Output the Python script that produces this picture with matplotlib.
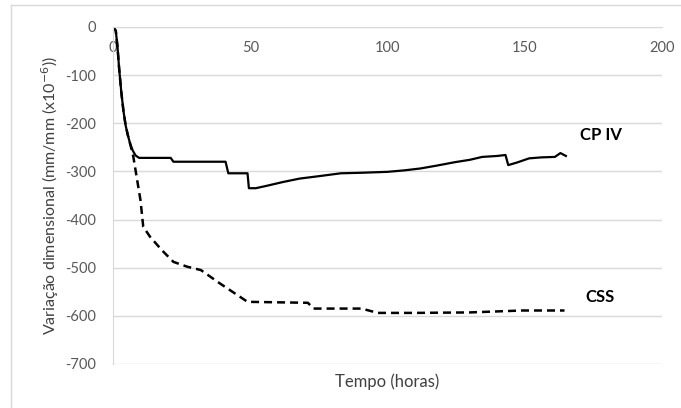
import numpy as np
import matplotlib.pyplot as plt
from matplotlib.lines import Line2D

plt.rcParams['font.family'] = ['Lato', 'DejaVu Sans']
plt.rcParams['axes.unicode_minus'] = False

# CP IV (solid line)
cp4_t = [0, 1, 1.6, 2.2, 3.0, 3.8, 4.6, 5.4, 6.2, 7.2, 8.2, 9.5, 21, 22, 41, 42, 49, 49.5, 52, 56,
         62, 68, 75, 83, 90, 100, 106, 112, 118, 124.5, 130, 134.5, 140, 143, 144, 147, 151.6,
         156, 161, 163, 165]
cp4_v = [0, -8, -40, -85, -135, -175, -205, -225, -242, -257, -267, -272, -272, -280, -280, -304,
         -304, -335, -335, -330, -322, -315, -310, -304, -303, -301, -298, -294, -288, -281, -276,
         -270, -268, -266, -287, -282, -273, -271, -270, -262, -268]

# CSS (dashed line)
css_t = [0, 1, 1.6, 2.2, 3.0, 3.8, 4.6, 5.4, 6.2, 7.4, 10, 11, 13.5, 18, 22, 27, 32, 39, 44, 49,
         60, 71, 73, 83, 90.5, 96.5, 110, 130, 149, 164.5]
css_v = [0, -8, -40, -85, -135, -175, -205, -225, -242, -270, -360, -415, -436, -465, -488, -498,
         -505, -533, -552, -571, -572, -573, -585, -585, -585, -594, -594, -593, -589, -589]

x_ticks = [0, 50, 100, 150, 200]
y_ticks = [0, -100, -200, -300, -400, -500, -600, -700]

fig = plt.figure(figsize=(6.81, 4.08), dpi=100)
ax = fig.add_axes([0.166, 0.108, 0.806, 0.826])

ax.plot(cp4_t, cp4_v, color='black', linewidth=1.6, linestyle='-')
ax.plot(css_t, css_v, color='black', linewidth=1.8, linestyle=(0, (3.2, 2.0)))

ax.set_xlim(0, 200)
ax.set_ylim(-700, 0)
ax.set_xticks(x_ticks)
ax.set_yticks(y_ticks)
ax.grid(True, axis='y', color='#d9d9d9', linewidth=1)
ax.set_axisbelow(True)

for side in ['right', 'bottom']:
    ax.spines[side].set_visible(False)
ax.spines['top'].set_color('#d9d9d9')
ax.spines['left'].set_color('#d9d9d9')

ax.tick_params(axis='x', top=True, bottom=False, labeltop=True, labelbottom=False,
               length=0, pad=-20, labelsize=10.5, labelcolor='#595959')
ax.tick_params(axis='y', length=0, pad=12, labelsize=10.5, labelcolor='#595959')

ax.set_xlabel('Tempo (horas)', fontsize=12, color='#404040', labelpad=7)
ax.set_ylabel('Variação dimensional (mm/mm (x10$^{-6}$))', fontsize=11.5, color='#404040')
ax.yaxis.set_label_coords(-0.094, 0.5)

ax.text(170, -225, 'CP IV', fontsize=12, fontweight='bold', ha='left', va='center')
ax.text(172, -562, 'CSS', fontsize=12, fontweight='bold', ha='left', va='center')

# outer chart border (top and left edges visible)
fig.add_artist(Line2D([11 / 681, 1], [1 - 5 / 408, 1 - 5 / 408], color='#d9d9d9', linewidth=1))
fig.add_artist(Line2D([11 / 681, 11 / 681], [0, 1 - 5 / 408], color='#d9d9d9', linewidth=1))

fig.savefig('out.png', dpi=100)
